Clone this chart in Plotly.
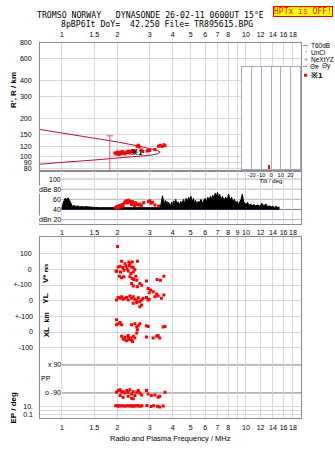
import numpy as np
import plotly.graph_objects as go

W, H = 335, 451


def px(x):
    return x / W


def py(y):
    return 1 - y / H


FONT = "Liberation Sans, Arial, sans-serif"
MONO = "DejaVu Sans Mono, monospace"
RED = "#ff0000"
CRIMSON = "#b0143c"
PINK = "#e0508a"
FRAME = "#8c8c8c"
GRID = "#d6d6e0"

# ---------------- data ----------------
# frequency ticks (MHz)
freq_ticks = [1, 1.5, 2, 3, 4, 5, 6, 7, 8, 9, 10, 12, 14, 16, 18]
freq_labels_main = ["1", "1.5", "2", "3", "4", "5", "6", "7", "8", "", "10", "12", "14", "16", "18"]
freq_labels_db = ["1", "1.5", "2", "3", "4", "5", "6", "7", "8", "9", "10", "12", "14", "16", "18"]

# range axis ticks (km)
range_ticks = [80, 90, 100, 120, 150, 200, 300, 400, 600, 800]

# model virtual-height curve: upper and lower branches meeting at the nose
curve_f_upper = [0.76, 1.0, 1.5, 2.0, 2.5, 3.0, 3.3, 3.42]
curve_r_upper = [164, 154, 141, 130.6, 122.7, 116, 112, 108.5]
curve_f_lower = [3.42, 3.3, 3.0, 2.5, 2.0, 1.5, 1.0, 0.76]
curve_r_lower = [108.5, 104.8, 102.4, 99.8, 97, 94, 90, 87]

# uncertainty bar
errbar_f = [1.82, 1.82]
errbar_r = [146, 77.5]

# echo ranges
echo_f = [1.94, 1.97, 2.0, 2.02, 2.05, 2.08, 2.1, 2.13, 2.16, 2.2, 2.23, 2.27, 2.3, 2.34,
          2.38, 2.42, 2.46, 2.5, 2.56, 2.6, 2.63, 2.7, 2.75, 2.9, 2.95, 3.0, 3.2, 3.35,
          3.42, 3.5, 3.58, 3.63]
echo_r = [107, 105, 109, 106, 104, 108, 106, 110, 107, 105, 109, 108, 111, 107,
          110, 112, 109, 111, 121, 123, 119, 113, 110, 111, 112, 112, 114, 121,
          123, 120, 124, 122]

# receiver noise / signal amplitude (dB)
noise_f = [0.97, 1.0, 1.02, 1.04, 1.06, 1.08, 1.10, 1.12, 1.14, 1.16, 1.19, 1.22, 1.25, 1.28,
           1.31, 1.35, 1.4, 1.45, 1.5, 1.6, 1.7, 1.8, 1.9, 2.0, 2.2, 2.4, 2.6, 2.8, 3.0, 3.2,
           3.35, 3.45, 3.52, 3.56, 3.6, 3.64, 3.68, 3.72, 3.76, 3.8, 3.85, 3.9, 3.95, 4.0,
           4.05, 4.1, 4.15, 4.2, 4.28, 4.35, 4.42, 4.5, 4.58, 4.65, 4.72, 4.8, 4.88, 4.95,
           5.02, 5.1, 5.18, 5.25, 5.32, 5.4, 5.5, 5.6, 5.7, 5.8, 5.9, 6.0, 6.1, 6.2, 6.3,
           6.4, 6.5, 6.6, 6.7, 6.8, 6.9, 7.0, 7.1, 7.2, 7.3, 7.45, 7.6, 7.75, 7.9, 8.05,
           8.2, 8.35, 8.5, 8.65, 8.8, 8.95, 9.1, 9.25, 9.4, 9.55, 9.7, 9.85, 10.0, 10.2,
           10.4, 10.6, 10.8, 11.0, 11.3, 11.6, 11.9, 12.2, 12.5, 12.8, 13.1, 13.4, 13.7,
           14.0, 14.3, 14.6, 14.9, 15.2]
noise_db = [43, 44, 55, 62, 60, 63, 58, 50, 46, 48, 46, 47, 45, 46,
            45, 45.5, 44.5, 44, 44, 43.5, 43.5, 43, 43, 43, 43, 43, 43, 43, 43, 43.5,
            45, 50, 67, 55, 48, 58, 50, 56, 46, 54, 50, 47, 55, 48,
            57, 50, 60, 52, 55, 48, 56, 52, 60, 50, 62, 56, 64, 58,
            66, 55, 62, 52, 58, 50, 56, 54, 60, 52, 58, 62, 55, 64, 58,
            66, 60, 68, 62, 72, 65, 74, 64, 70, 60, 66, 58, 64, 60, 70,
            58, 64, 55, 60, 52, 56, 50, 54, 60, 70, 56, 52, 50, 54,
            48, 51, 47, 50, 47, 49, 46, 52, 47, 51, 46, 47, 45,
            46, 44, 46, 44, 45]
noise_floor_db = 40.5

# echo amplitudes (dB)
amp_f = [1.96, 1.99, 2.02, 2.05, 2.08, 2.12, 2.15, 2.18, 2.21, 2.24, 2.27, 2.3, 2.33, 2.36,
         2.39, 2.42, 2.45, 2.48, 2.52, 2.56, 2.6, 2.65, 2.7, 2.78, 2.95, 3.0, 3.05, 3.1,
         3.2, 3.35]
amp_db = [44, 46, 43, 48, 45, 50, 47, 52, 55, 57, 53, 58, 54, 56,
          50, 55, 52, 48, 53, 50, 49, 51, 48, 53, 55, 57, 52, 54,
          49, 47]

# Doppler velocity V* (m/s)
vel_f = [2.006, 2.11, 2.31, 2.41, 2.57, 2.20, 2.34, 1.98, 2.02, 2.07, 2.14, 2.23, 2.26, 2.32,
         2.39, 2.44, 2.49, 1.97, 2.08, 2.17, 2.29, 2.37, 2.44, 2.05, 2.11, 2.17, 2.34, 2.41,
         2.46, 2.52, 2.55, 2.65, 2.71, 2.39, 2.44, 2.57, 2.88, 2.94, 3.03, 2.98, 3.29, 3.43,
         3.58]
vel_ms = [145, 52, 46, 46, 52, 36, 36, -11, 15, 19, 11, 19, 4, 25,
          15, 11, -2, -13, -17, -6, -11, -27, -17, -44, -53, -48, -48, -59,
          -65, -44, -69, -90, -101, -90, -107, -111, -74, -122, -132, -149, -65, -69,
          -44]

# YL location (km)
yl_f = [1.98, 2.02, 2.07, 2.11, 2.15, 2.20, 2.25, 2.29, 2.34, 2.39, 2.44, 2.49, 2.55, 2.60,
        2.65, 2.71, 2.76, 2.88, 2.94, 2.98, 3.13, 3.20, 3.27, 3.33, 3.47, 3.58, 2.65, 2.71,
        2.44, 2.55]
yl_km = [4, 21, 15, 25, 9, 15, 21, 4, 29, 15, 25, 9, 0, 19,
         -6, 4, 15, 21, 4, 9, 57, 25, 42, 29, 15, 36, -38, -27,
         -17, -13]

# XL location (km)
xl_f = [1.98, 2.02, 2.07, 2.11, 1.98, 2.39, 2.49, 2.60, 2.65, 2.55, 2.88, 2.94, 3.63,
        2.11, 2.20, 2.29, 2.32, 2.36, 2.39, 2.44, 2.49, 2.55, 2.57, 2.88, 3.13, 3.27, 3.33,
        3.40, 2.15, 2.25, 2.34, 2.42, 2.2, 2.3, 3.55]
xl_km = [78, 53, 61, 46, 46, 46, 53, 40, 53, 32, 40, 36, 36,
         -27, -31, -23, -48, -38, -52, -27, -38, -6, 15, -31, -38, -27, -23,
         -38, -44, -55, -42, -60, -50, -35, 32]

# polarisation PP (deg)
pp_f = [1.98, 2.02, 2.07, 2.11, 2.15, 2.20, 2.25, 2.29, 2.34, 2.39, 2.44, 2.49, 2.55, 2.60,
        2.65, 2.71, 2.07, 2.15, 2.29, 2.39, 2.44, 2.88, 2.94, 3.06, 3.20, 3.33, 3.40, 3.63]
pp_deg = [-86, -75, -69, -86, -82, -90, -75, -86, -69, -97, -82, -107, -86, -75,
          -90, -103, -107, -118, -112, -124, -128, -75, -97, -107, -103, -118, -112, -86]

# EP (deg)
ep_f = [1.96, 1.99, 2.02, 2.05, 2.1, 2.15, 2.2, 2.25, 2.3, 2.34, 2.38, 2.42, 2.46, 2.5,
        2.55, 2.6, 2.66, 2.72, 2.9, 3.05, 3.15, 3.3, 3.4, 3.55]
ep_deg = [12, 14, 10, 12, 11, 12, 10, 13, 12, 11, 12, 10, 12, 11,
          13, 12, 10, 12, 14, 8, 12, 10, 6, 11]

# tilt histogram
tilt_deg = [-2]
tilt_count = [1]

# ---------------- figure ----------------
fig = go.Figure()
mk = dict(symbol="square", size=3, color=RED, line=dict(width=0))

fig.add_trace(go.Scatter(x=curve_f_upper + curve_f_lower, y=curve_r_upper + curve_r_lower,
                         mode="lines", line=dict(color=CRIMSON, width=1), xaxis="x", yaxis="y"))
fig.add_trace(go.Scatter(x=errbar_f, y=errbar_r, mode="lines+markers",
                         line=dict(color=PINK, width=1),
                         marker=dict(symbol="line-ew", size=5, line=dict(color=PINK, width=1)),
                         xaxis="x", yaxis="y"))
fig.add_trace(go.Scatter(x=echo_f, y=echo_r, mode="markers", marker=mk, xaxis="x", yaxis="y"))

# amplitude panel
fig.add_trace(go.Scatter(x=noise_f, y=[noise_floor_db] * len(noise_f), mode="lines",
                         line=dict(color="black", width=1), xaxis="x2", yaxis="y2"))
fig.add_trace(go.Scatter(x=noise_f, y=noise_db, mode="lines", fill="tonexty",
                         fillcolor="black", line=dict(color="black", width=1),
                         xaxis="x2", yaxis="y2"))
fig.add_trace(go.Scatter(x=amp_f, y=amp_db, mode="markers", marker=mk, xaxis="x2", yaxis="y2"))

# lower panel rows
fig.add_trace(go.Scatter(x=vel_f, y=vel_ms, mode="markers", marker=mk, xaxis="x3", yaxis="y3"))
fig.add_trace(go.Scatter(x=yl_f, y=yl_km, mode="markers", marker=mk, xaxis="x3", yaxis="y4"))
fig.add_trace(go.Scatter(x=xl_f, y=xl_km, mode="markers", marker=mk, xaxis="x3", yaxis="y5"))
fig.add_trace(go.Scatter(x=pp_f, y=pp_deg, mode="markers", marker=mk, xaxis="x3", yaxis="y6"))
fig.add_trace(go.Scatter(x=ep_f, y=ep_deg, mode="markers", marker=mk, xaxis="x3", yaxis="y7"))

# tilt inset
fig.add_trace(go.Bar(x=tilt_deg, y=tilt_count, width=1.3, marker=dict(color=RED, line=dict(width=0)),
                     xaxis="x4", yaxis="y8"))

xdom = [px(40), px(301)]
xrange = [np.log10(0.76), np.log10(19.9)]
tickfont = dict(family=FONT, size=7, color="black")

common_x = dict(type="log", range=xrange, domain=xdom, tickmode="array", tickvals=freq_ticks,
                showgrid=True, gridcolor=GRID, gridwidth=1, showline=True, mirror=True,
                linecolor=FRAME, linewidth=1, ticks="", tickfont=tickfont, zeroline=False,
                tickangle=0, ticklabelstandoff=2)

lower_top, lower_bot = 236, 419
lower_dom = [py(lower_bot), py(lower_top)]
s_ms = 0.1585  # px per m/s (or km)


def lin_range(zero_px, scale):
    return [-(lower_bot - zero_px) / scale, (zero_px - lower_top) / scale]


pp_scale = 0.1572
pp_zero = 379.15
ep_dec = 4.15
ep_ten = 406.7

fig.update_layout(
    width=W, height=H, margin=dict(l=0, r=0, t=0, b=0),
    paper_bgcolor="white", plot_bgcolor="white", showlegend=False,
    font=dict(family=FONT, size=7, color="black"),
    xaxis=dict(common_x, anchor="y", side="top", ticktext=freq_labels_main),
    yaxis=dict(type="log", range=[1.885, 2.903], domain=[py(169), py(39)], anchor="x",
               tickmode="array", tickvals=range_ticks, ticktext=[str(v) for v in range_ticks],
               showgrid=True, gridcolor=GRID, showline=True, mirror=True, linecolor=FRAME,
               ticks="", tickfont=tickfont, ticklabelstandoff=6),
    xaxis2=dict(common_x, anchor="y2", side="bottom", ticktext=freq_labels_db),
    yaxis2=dict(range=[12.2, 115.6], domain=[py(222), py(169)], anchor="x2",
                showgrid=False, showticklabels=False, showline=True, mirror=True,
                linecolor=FRAME, ticks="", zeroline=False),
    xaxis3=dict(common_x, anchor="y3", side="bottom", ticktext=freq_labels_main),
    yaxis3=dict(range=lin_range(268.3, s_ms), domain=lower_dom, anchor="x3",
                tickmode="array", tickvals=[100, 0, -100], ticktext=["100", "0", "+-100"],
                showgrid=True, gridcolor=GRID, showline=True, mirror=True, linecolor=FRAME,
                ticks="", tickfont=tickfont, ticklabelstandoff=6, zeroline=False),
    yaxis4=dict(range=lin_range(300, s_ms), overlaying="y3", anchor="x3", side="left",
                tickmode="array", tickvals=[0, -100], ticktext=["0", "+-100"],
                showgrid=True, gridcolor=GRID, showline=False, ticks="", tickfont=tickfont,
                ticklabelstandoff=6, zeroline=False),
    yaxis5=dict(range=lin_range(331.7, s_ms), overlaying="y3", anchor="x3", side="left",
                tickmode="array", tickvals=[0, -100], ticktext=["0", "-100"],
                showgrid=True, gridcolor=GRID, showline=False, ticks="", tickfont=tickfont,
                ticklabelstandoff=6, zeroline=False),
    yaxis6=dict(range=[-(lower_bot - pp_zero) / pp_scale, (pp_zero - lower_top) / pp_scale],
                overlaying="y3", anchor="x3", side="left", showgrid=False,
                showticklabels=False, showline=False, ticks="", zeroline=False),
    yaxis7=dict(type="log", range=[1 - (lower_bot - ep_ten) / ep_dec, 1 + (ep_ten - lower_top) / ep_dec],
                overlaying="y3", anchor="x3", side="left", tickmode="array",
                tickvals=[10, 1, 0.1], ticktext=["10.", "", "0.1"], showgrid=True,
                gridcolor=GRID, showline=False, ticks="", tickfont=tickfont,
                ticklabelstandoff=6),
    xaxis4=dict(range=[-30, 30], domain=[px(242), px(300)], anchor="y8", tickmode="array",
                tickvals=[-20, -10, 0, 10, 20], ticktext=["-20", "-10", "0", "10", "20"],
                showgrid=True, gridcolor="#a8a8c4", showline=True, mirror=True,
                linecolor="#a8a8c4", ticks="", tickfont=dict(family=FONT, size=5.5),
                ticklabelstandoff=0, zeroline=False, tickangle=0,
                title=dict(text="Tilt / deg", font=dict(family=FONT, size=6), standoff=0)),
    yaxis8=dict(range=[0, 25], domain=[py(167), py(64)], anchor="x4", showgrid=False,
                showticklabels=False, showline=True, mirror=True, linecolor="#a8a8c4",
                ticks="", zeroline=False),
)

shapes = []
# amplitude panel reference levels
for lvl, col in [(100, "#b4b4b4"), (80, "#b4b4b4"), (60, "#b4b4b4"), (40, "#7c7c7c"), (20, "#b0b0e0")]:
    shapes.append(dict(type="line", xref="paper", yref="y2", x0=px(62), x1=px(301), y0=lvl, y1=lvl,
                       line=dict(color=col, width=1), layer="below"))
# polarisation reference levels
for lvl in [90, -90]:
    shapes.append(dict(type="line", xref="paper", yref="y6", x0=px(62), x1=px(301), y0=lvl, y1=lvl,
                       line=dict(color="#7c7c7c", width=1), layer="below"))

# legend glyphs
shapes.append(dict(type="line", xref="paper", yref="paper", x0=px(303), x1=px(308), y0=py(42), y1=py(42),
                   line=dict(color="#909090", width=1)))
shapes.append(dict(type="line", xref="paper", yref="paper", x0=px(303), x1=px(307), y0=py(63), y1=py(63),
                   line=dict(color=PINK, width=1)))
shapes.append(dict(type="line", xref="paper", yref="paper", x0=px(315), x1=px(319), y0=py(63), y1=py(63),
                   line=dict(color="#8080d0", width=1)))
shapes.append(dict(type="rect", xref="paper", yref="paper", x0=px(304), x1=px(307), y0=py(73.5), y1=py(70.5),
                   fillcolor=RED, line=dict(width=0)))
fig.update_layout(shapes=shapes)

ann = []


def text(x, y, s, size=7, xanchor="center", yanchor="middle", angle=0, color="black", bold=False,
         family=FONT, **kw):
    if bold:
        s = "<b>" + s + "</b>"
    ann.append(dict(x=px(x), y=py(y), xref="paper", yref="paper", text=s, showarrow=False,
                    xanchor=xanchor, yanchor=yanchor, textangle=angle,
                    font=dict(family=family, size=size, color=color), **kw))


nb = "\u00a0"
text(150, 11.5, "TROMSO NORWAY" + nb * 3 + "DYNASONDE 26-02-11 0600UT 15°E", size=8.2, family=MONO)
text(157, 20, "8pBP6It DoY=" + nb * 2 + "42.250 File= TR895615.BPG", size=8.2, family=MONO)
text(333, 8, "HPTx is OFF!", size=8, xanchor="right", color=RED, bgcolor="#ffff00",
     bordercolor=RED, borderwidth=1, borderpad=0, family=MONO)

text(13, 87, "R', R / km", size=8, angle=-90, bold=True)
text(13, 408, "EP / deg", size=8, angle=-90, bold=True)
text(170, 439, "Radio and Plasma Frequency / MHz", size=7.5)

# amplitude panel labels
for y, s in [(177, "100"), (188, "dBe 80"), (198, "60"), (208, "40"), (218, "dBn 20")]:
    text(62, y, s, xanchor="right", bgcolor="white", borderpad=0)

# lower panel row labels
text(46, 272, "V* <span style='font-size:5px'>m/s</span>", size=8, angle=-90, bold=True)
text(46, 298, "YL", size=8, angle=-90, bold=True)
text(46, 317, "km", size=7, angle=-90, bold=True)
text(46, 332, "XL", size=8, angle=-90, bold=True)
text(46, 379, "PP", size=7)
text(62, 365, "x 90", xanchor="right", bgcolor="white", borderpad=0)
text(62, 393, "o -90", xanchor="right", bgcolor="white", borderpad=0)

# legend
text(309, 42, "T60dB", size=6.5, xanchor="left")
text(305.5, 48, "·", size=7)
text(309, 49, "UnCl", size=6.5, xanchor="left")
text(305.5, 56, "+", size=7, color=PINK)
text(309, 56, "NeXtYZ", size=6.5, xanchor="left")
text(307.5, 63, "Θx", size=6.5, xanchor="left")
text(319.5, 63, "Θy", size=6.5, xanchor="left")
text(309, 72, "※1", size=8, xanchor="left", bold=True)

# echo label inside the range panel
ann.append(dict(x=np.log10(2.57), y=np.log10(108), xref="x", yref="y", text="<b>※1</b>",
                showarrow=False, font=dict(family=FONT, size=8, color="black")))

fig.update_layout(annotations=ann)
fig.write_html("out.html")
